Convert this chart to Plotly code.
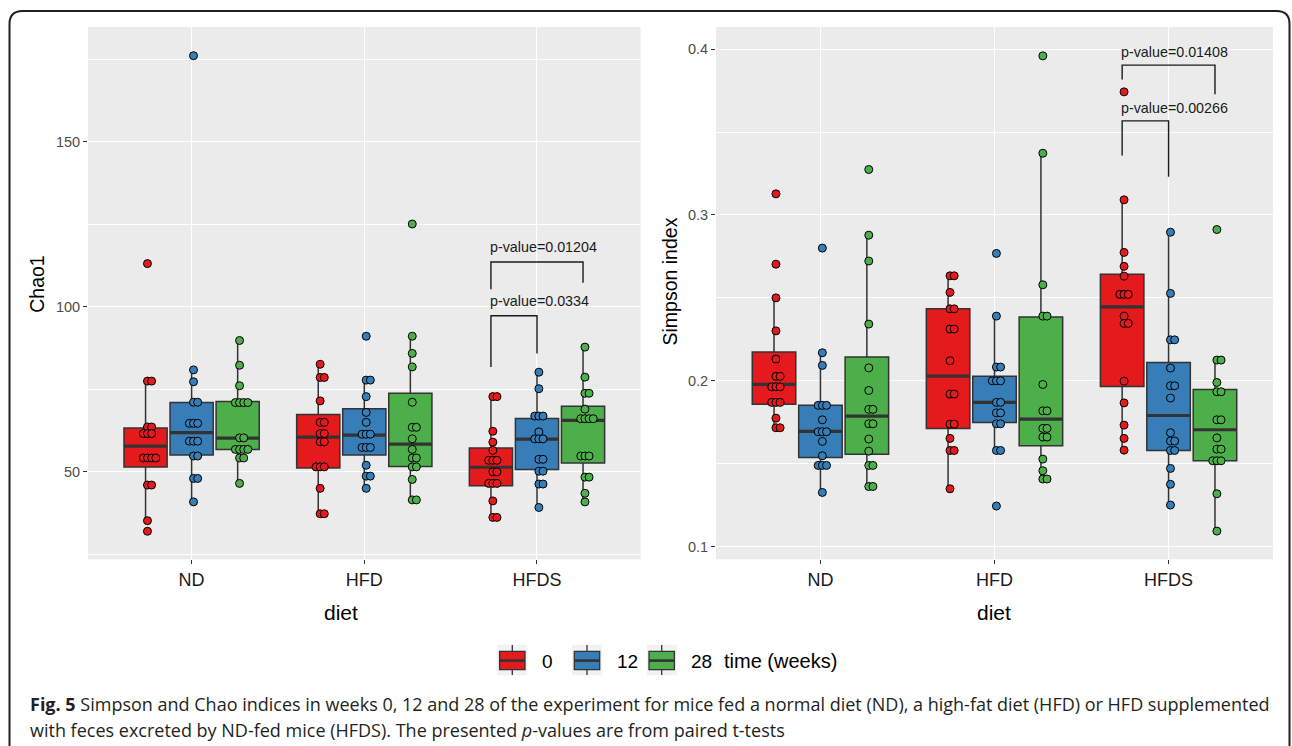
import math
from collections import Counter
import plotly.graph_objects as go

W, H = 1292, 746

diets = ["ND", "HFD", "HFDS"]
times = ["0", "12", "28"]
colors = ["#E41A1C", "#377EB8", "#4DAF4A"]

# ---------------- Chao1 values ----------------
chao_t0_nd = [77.5, 77.5, 63.6, 63.6, 61.6, 61.6, 61.6, 54.2, 54.2, 54.2, 54.2, 46.0, 46.0, 35.2, 32.0, 113.1]
chao_t0_hfd = [82.6, 78.6, 78.6, 71.5, 65.0, 65.0, 61.6, 61.6, 59.1, 59.1, 51.5, 51.5, 51.5, 45.0, 37.3, 37.3]
chao_t0_hfds = [72.8, 72.8, 62.3, 59.0, 56.5, 53.5, 53.5, 53.5, 50.0, 50.0, 46.5, 46.5, 46.5, 41.2, 36.2, 36.2]
chao_t12_nd = [176.1, 80.9, 77.3, 71.1, 71.1, 64.7, 64.7, 64.7, 59.3, 59.3, 59.3, 54.8, 54.8, 48.0, 48.0, 40.9]
chao_t12_hfd = [91.1, 77.8, 77.8, 72.8, 68.0, 65.0, 61.4, 61.4, 61.4, 57.4, 57.4, 57.4, 52.0, 48.7, 48.7, 45.0]
chao_t12_hfds = [80.2, 75.2, 66.9, 66.9, 66.9, 62.1, 60.0, 60.0, 60.0, 53.8, 53.8, 50.2, 50.2, 46.3, 46.3, 39.2]
chao_t28_nd = [89.8, 82.3, 76.1, 71.0, 71.0, 71.0, 71.0, 60.3, 60.3, 56.8, 56.8, 56.8, 56.8, 54.2, 54.2, 46.5]
chao_t28_hfd = [125.1, 91.1, 85.9, 81.8, 71.1, 63.5, 63.5, 60.0, 56.8, 54.2, 54.2, 51.5, 51.5, 47.7, 41.5, 41.5]
chao_t28_hfds = [87.8, 78.7, 73.8, 73.8, 69.0, 66.1, 66.1, 66.1, 66.1, 54.8, 54.8, 54.8, 48.4, 48.4, 43.5, 40.9]

# box statistics (ND, HFD, HFDS)
chao_t0_q1 = [51.5, 51.2, 45.8]
chao_t0_med = [57.8, 60.5, 51.4]
chao_t0_q3 = [63.3, 67.4, 57.2]
chao_t12_q1 = [55.1, 55.1, 50.7]
chao_t12_med = [61.9, 61.1, 59.9]
chao_t12_q3 = [71.0, 69.1, 66.2]
chao_t28_q1 = [56.8, 51.6, 52.7]
chao_t28_med = [60.2, 58.4, 65.6]
chao_t28_q3 = [71.3, 73.8, 69.9]

# ---------------- Simpson values ----------------
simp_t0_nd = [0.3127, 0.2703, 0.2500, 0.2301, 0.2131, 0.2027, 0.2027, 0.1964, 0.1964, 0.1964, 0.1870, 0.1870, 0.1870, 0.1775, 0.1717, 0.1717]
simp_t0_hfd = [0.2633, 0.2633, 0.2533, 0.2434, 0.2434, 0.2312, 0.2312, 0.2121, 0.1920, 0.1920, 0.1739, 0.1739, 0.1653, 0.1580, 0.1580, 0.1349]
simp_t0_hfds = [0.3742, 0.3091, 0.2774, 0.2690, 0.2631, 0.2521, 0.2521, 0.2521, 0.2390, 0.2346, 0.2346, 0.1998, 0.1867, 0.1733, 0.1653, 0.1582]
simp_t12_nd = [0.2800, 0.2169, 0.2093, 0.1852, 0.1852, 0.1852, 0.1765, 0.1693, 0.1693, 0.1693, 0.1635, 0.1548, 0.1490, 0.1490, 0.1490, 0.1327]
simp_t12_hfd = [0.2768, 0.2390, 0.2083, 0.2083, 0.2000, 0.2000, 0.2000, 0.1870, 0.1870, 0.1807, 0.1807, 0.1741, 0.1741, 0.1580, 0.1580, 0.1245]
simp_t12_hfds = [0.2896, 0.2527, 0.2247, 0.2247, 0.2077, 0.1970, 0.1970, 0.1896, 0.1687, 0.1637, 0.1637, 0.1580, 0.1580, 0.1472, 0.1376, 0.1251]
simp_t28_nd = [0.3274, 0.2878, 0.2722, 0.2342, 0.2078, 0.1942, 0.1828, 0.1828, 0.1741, 0.1741, 0.1649, 0.1576, 0.1490, 0.1490, 0.1363, 0.1363]
simp_t28_hfd = [0.3959, 0.3372, 0.2579, 0.2390, 0.2390, 0.1978, 0.1819, 0.1819, 0.1713, 0.1713, 0.1661, 0.1661, 0.1528, 0.1458, 0.1408, 0.1408]
simp_t28_hfds = [0.2912, 0.2125, 0.2125, 0.1990, 0.1934, 0.1934, 0.1765, 0.1765, 0.1656, 0.1588, 0.1588, 0.1518, 0.1518, 0.1518, 0.1319, 0.1094]

simp_t0_q1 = [0.1858, 0.1713, 0.1966]
simp_t0_med = [0.1978, 0.2028, 0.2446]
simp_t0_q3 = [0.2173, 0.2434, 0.2643]
simp_t12_q1 = [0.1538, 0.1749, 0.1580]
simp_t12_med = [0.1695, 0.1870, 0.1791]
simp_t12_q3 = [0.1852, 0.2027, 0.2111]
simp_t28_q1 = [0.1558, 0.1608, 0.1518]
simp_t28_med = [0.1787, 0.1769, 0.1705]
simp_t28_q3 = [0.2143, 0.2384, 0.1948]

# ---------------- p-value brackets (HFDS group) ----------------
chao_p_labels = ["p-value=0.01204", "p-value=0.0334"]
chao_p_pairs = [(0, 2), (0, 1)]          # time indices compared
chao_p_top = [113.6, 97.3]
chao_p_left_end = [105.3, 81.8]
chao_p_right_end = [107.3, 85.9]

simp_p_labels = ["p-value=0.01408", "p-value=0.00266"]
simp_p_pairs = [(0, 2), (0, 1)]
simp_p_top = [0.3903, 0.3567]
simp_p_left_end = [0.3817, 0.3359]
simp_p_right_end = [0.3728, 0.3230]

caption_1 = ("<b>Fig. 5</b> Simpson and Chao indices in weeks 0, 12 and 28 of the experiment for mice fed a "
             "normal diet (ND), a high-fat diet (HFD) or HFD supplemented")
caption_2 = "with feces excreted by ND-fed mice (HFDS). The presented <i>p</i>-values are from paired t-tests"

# ---------------- styling ----------------
FONT = "Liberation Sans, Arial, sans-serif"
DODGE = 0.8 / 3
BOX_W = 0.25
DOT_STEP = 0.024
DOT_SHIFT = 0.011
EDGE = "#333333"


def fx(px):
    return px / W


def fy(py):
    return 1 - py / H


def fences(vals, q1, q3):
    iqr = q3 - q1
    lo = min(v for v in vals if v >= q1 - 1.5 * iqr)
    hi = max(v for v in vals if v <= q3 + 1.5 * iqr)
    return lo, hi


panels = [
    dict(xa="x", ya="y", p_yshift=15,
         groups=[[chao_t0_nd, chao_t0_hfd, chao_t0_hfds],
                 [chao_t12_nd, chao_t12_hfd, chao_t12_hfds],
                 [chao_t28_nd, chao_t28_hfd, chao_t28_hfds]],
         q1=[chao_t0_q1, chao_t12_q1, chao_t28_q1],
         med=[chao_t0_med, chao_t12_med, chao_t28_med],
         q3=[chao_t0_q3, chao_t12_q3, chao_t28_q3],
         plab=chao_p_labels, ppairs=chao_p_pairs, ptop=chao_p_top,
         pleft=chao_p_left_end, pright=chao_p_right_end),
    dict(xa="x2", ya="y2", p_yshift=13,
         groups=[[simp_t0_nd, simp_t0_hfd, simp_t0_hfds],
                 [simp_t12_nd, simp_t12_hfd, simp_t12_hfds],
                 [simp_t28_nd, simp_t28_hfd, simp_t28_hfds]],
         q1=[simp_t0_q1, simp_t12_q1, simp_t28_q1],
         med=[simp_t0_med, simp_t12_med, simp_t28_med],
         q3=[simp_t0_q3, simp_t12_q3, simp_t28_q3],
         plab=simp_p_labels, ppairs=simp_p_pairs, ptop=simp_p_top,
         pleft=simp_p_left_end, pright=simp_p_right_end),
]

fig = go.Figure()
annotations = []


def pos(d, t):
    return d + 1 + (t - 1) * DODGE


for p in panels:
    # boxes
    for t in range(3):
        xs = [pos(d, t) for d in range(3)]
        lows, highs = [], []
        for d in range(3):
            lo, hi = fences(p["groups"][t][d], p["q1"][t][d], p["q3"][t][d])
            lows.append(lo)
            highs.append(hi)
        fig.add_trace(go.Box(
            x=xs, q1=p["q1"][t], median=p["med"][t], q3=p["q3"][t],
            lowerfence=lows, upperfence=highs,
            width=BOX_W, whiskerwidth=0, boxpoints=False,
            fillcolor=colors[t], line=dict(color=EDGE, width=1.5),
            name=times[t], showlegend=False, hoverinfo="skip",
            xaxis=p["xa"], yaxis=p["ya"]))
    # thick median lines
    for t in range(3):
        mx, my = [], []
        for d in range(3):
            c = pos(d, t)
            mx += [c - BOX_W / 2, c + BOX_W / 2, None]
            my += [p["med"][t][d], p["med"][t][d], None]
        fig.add_trace(go.Scatter(x=mx, y=my, mode="lines",
                                 line=dict(color=EDGE, width=3.2), showlegend=False,
                                 hoverinfo="skip", xaxis=p["xa"], yaxis=p["ya"]))
    # dots (centre-whole stacking of equal values)
    for t in range(3):
        dx, dy = [], []
        for d in range(3):
            vals = p["groups"][t][d]
            cnt = Counter(vals)
            for v, n in cnt.items():
                for k in range(n):
                    off = k - math.floor((n - 1) / 2)
                    dx.append(pos(d, t) + DOT_SHIFT + off * DOT_STEP)
                    dy.append(v)
        fig.add_trace(go.Scatter(x=dx, y=dy, mode="markers",
                                 marker=dict(size=8, color=colors[t],
                                             line=dict(color="black", width=1)),
                                 showlegend=False, hoverinfo="skip",
                                 xaxis=p["xa"], yaxis=p["ya"]))
    # p-value brackets in HFDS
    for i, lab in enumerate(p["plab"]):
        ta, tb = p["ppairs"][i]
        xl, xr = pos(2, ta), pos(2, tb)
        fig.add_trace(go.Scatter(
            x=[xl, xl, xr, xr], y=[p["pleft"][i], p["ptop"][i], p["ptop"][i], p["pright"][i]],
            mode="lines", line=dict(color="#1a1a1a", width=1.4), showlegend=False,
            hoverinfo="skip", xaxis=p["xa"], yaxis=p["ya"]))
        annotations.append(dict(x=xl, y=p["ptop"][i], xref=p["xa"], yref=p["ya"],
                                text=lab, showarrow=False, xanchor="left", yanchor="middle",
                                xshift=-3, yshift=p["p_yshift"],
                                font=dict(family=FONT, size=14.3, color="#1a1a1a")))

axis_common = dict(showline=False, zeroline=False, ticks="outside", ticklen=4,
                   tickcolor=EDGE, tickwidth=1.1, gridcolor="white", gridwidth=1.4,
                   showgrid=True)

fig.update_layout(
    width=W, height=H, autosize=False,
    margin=dict(l=0, r=0, t=0, b=0),
    paper_bgcolor="white", plot_bgcolor="#EBEBEB",
    showlegend=False,
    xaxis=dict(domain=[fx(88), fx(640.6)], range=[0.4, 3.6], tickmode="array",
               tickvals=[1, 2, 3], ticktext=diets, anchor="y",
               tickfont=dict(family=FONT, size=18, color="#1a1a1a"), **axis_common),
    yaxis=dict(domain=[fy(559.3), fy(27)], range=[23.5, 184.8], tickmode="linear",
               tick0=0, dtick=50, anchor="x",
               minor=dict(dtick=25, tick0=0, showgrid=True, gridcolor="white", gridwidth=0.7, ticks=""),
               tickfont=dict(family=FONT, size=14.5, color="#4D4D4D"), **axis_common),
    xaxis2=dict(domain=[fx(716), fx(1273)], range=[0.4, 3.6], tickmode="array",
                tickvals=[1, 2, 3], ticktext=diets, anchor="y2",
                tickfont=dict(family=FONT, size=18, color="#1a1a1a"), **axis_common),
    yaxis2=dict(domain=[fy(559.3), fy(27)], range=[0.0924, 0.4133], tickmode="linear",
                tick0=0, dtick=0.1, anchor="x2",
                minor=dict(dtick=0.05, tick0=0, showgrid=True, gridcolor="white", gridwidth=0.7, ticks=""),
                tickfont=dict(family=FONT, size=14.5, color="#4D4D4D"), **axis_common),
)


def paper_text(px, py, text, size, angle=0, anchor="center", family=FONT, color="black"):
    return dict(x=fx(px), y=fy(py), xref="paper", yref="paper", text=text, textangle=angle,
                xanchor=anchor, yanchor="middle", showarrow=False,
                font=dict(family=family, size=size, color=color))


# axis titles
annotations += [
    paper_text(36.8, 284, "Chao1", 19.5, angle=-90),
    paper_text(669.5, 282, "Simpson index", 19.5, angle=-90),
    paper_text(341, 612, "diet", 21),
    paper_text(994, 612, "diet", 21),
]

# manual legend (boxplot keys)
shapes = []
KEY0, KEY_GAP, KEY_W = 497.3, 74.7, 30
for t in range(3):
    x0 = KEY0 + t * KEY_GAP
    xc = x0 + KEY_W / 2
    shapes.append(dict(type="rect", xref="paper", yref="paper", x0=fx(x0), x1=fx(x0 + KEY_W),
                       y0=fy(675.3), y1=fy(644.7), fillcolor="#F2F2F2", line=dict(width=0), layer="below"))
    shapes.append(dict(type="line", xref="paper", yref="paper", x0=fx(xc), x1=fx(xc),
                       y0=fy(645), y1=fy(675), line=dict(color=EDGE, width=1.3)))
    shapes.append(dict(type="rect", xref="paper", yref="paper", x0=fx(x0 + 2.3), x1=fx(x0 + KEY_W - 2.3),
                       y0=fy(669.7), y1=fy(651.3), fillcolor=colors[t], line=dict(color=EDGE, width=1.3)))
    shapes.append(dict(type="line", xref="paper", yref="paper", x0=fx(x0 + 2.3), x1=fx(x0 + KEY_W - 2.3),
                       y0=fy(660.6), y1=fy(660.6), line=dict(color=EDGE, width=2.6)))
    annotations.append(paper_text(x0 + 42.5, 661, times[t], 19, anchor="left"))
annotations.append(paper_text(722, 661, "time (weeks)", 20, anchor="left"))

# caption
CAP_FONT = "Open Sans, Noto Sans, sans-serif"
annotations += [
    paper_text(28, 704, caption_1, 18, anchor="left", family=CAP_FONT, color="#231F20"),
    paper_text(28, 730, caption_2, 18, anchor="left", family=CAP_FONT, color="#231F20"),
]

# rounded frame (open at the bottom)
r = 13
L, T, R, B = 9.5, 11, 1289.5, 760
path = (f"M {fx(L)},{fy(B)} L {fx(L)},{fy(T + r)} Q {fx(L)},{fy(T)} {fx(L + r)},{fy(T)} "
        f"L {fx(R - r)},{fy(T)} Q {fx(R)},{fy(T)} {fx(R)},{fy(T + r)} L {fx(R)},{fy(B)}")
shapes.append(dict(type="path", xref="paper", yref="paper", path=path,
                   line=dict(color="#231F20", width=2)))

fig.update_layout(annotations=annotations, shapes=shapes)
fig.write_html("out.html", config={"displayModeBar": False},
               post_script="document.body.style.margin='0px';")
